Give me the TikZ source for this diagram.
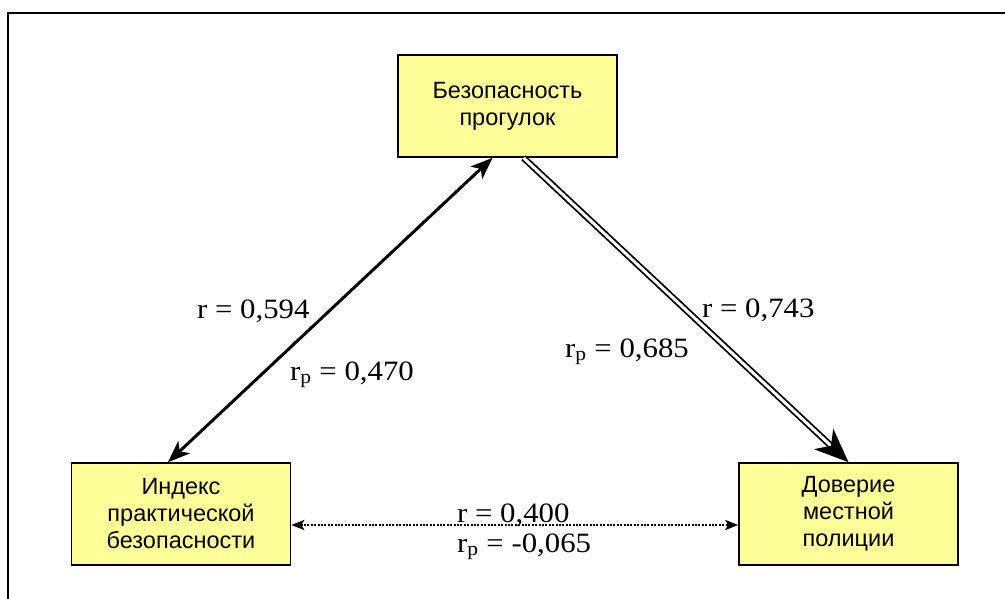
\documentclass[tikz,border=0pt]{standalone}
\usepackage{fontspec}
\setmainfont{Liberation Serif}[FakeStretch=1.1]
\setsansfont{Liberation Sans}
\usetikzlibrary{arrows.meta,calc}
\definecolor{boxyellow}{RGB}{255,255,153}

\begin{document}
\begin{tikzpicture}[x=1pt,y=-1pt,
  factor/.style={draw=black,line width=1.6pt,fill=boxyellow,minimum width=219pt,minimum height=102pt,
    align=center,font=\sffamily\fontsize{23.5}{27}\selectfont},
  coefficient/.style={anchor=base west,inner sep=0pt,font=\fontsize{28}{30}\selectfont}]
\useasboundingbox (0,0) rectangle (1005,599);
%\draw[step=50,gray,very thin] (0,0) grid (1005,599);

\draw[line width=2pt](8,599)--(8,13)--(1005,13);

\node[factor] (walk) at (507.5,106) {Безопасность\\прогулок};
\node[factor] (index) at (181,514) {Индекс\\практической\\безопасности};
\node[factor] (trust) at (848.5,514) {Доверие\\местной\\полиции};

\draw[line width=3pt,{Stealth[length=22pt,width=17pt,inset=6pt]}-{Stealth[length=22pt,width=17pt,inset=6pt]}]
  ($(walk.south)+(-15,0)$) -- ($(index.north)+(-13,0)$);
\draw[double,line width=1.8pt,double distance=3pt,-{Stealth[length=34pt,width=28pt,inset=10pt]}]
  ($(walk.south)+(16,0)$) -- (trust.north);
\draw[line width=2.4pt,dash pattern=on 2pt off 1.4pt,{Stealth[length=13pt,width=10pt,inset=3pt]}-{Stealth[length=13pt,width=10pt,inset=3pt]}]
  ($(index.east)+(0,11)$) -- ($(trust.west)+(0,11)$);

\node[coefficient] (ra) at (197,318) {r = 0,594};
\node[coefficient] (rpa) at (290,380) {r\textsubscript{p} = 0,470};
\node[coefficient] (rb) at (702,317) {r = 0,743};
\node[coefficient] (rpb) at (565,357) {r\textsubscript{p} = 0,685};
\node[coefficient] (rc) at (457,522) {r = 0,400};
\node[coefficient] (rpc) at (457,552) {r\textsubscript{p} = -0,065};

\end{tikzpicture}
\end{document}
